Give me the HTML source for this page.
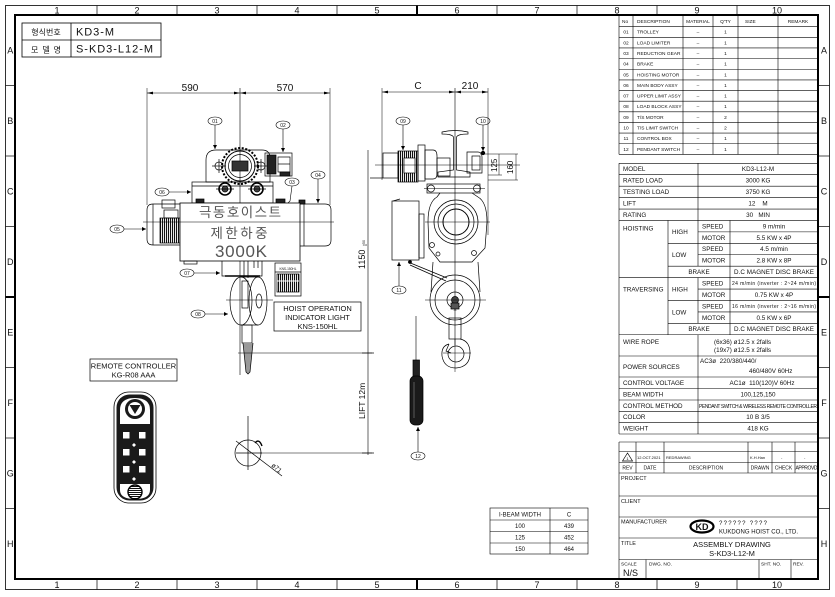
<!DOCTYPE html>
<html><head><meta charset="utf-8">
<style>
html,body{margin:0;padding:0;background:#fff;}
svg{display:block;}
text{font-family:"Liberation Sans","Noto Sans CJK KR",sans-serif;fill:#111;stroke:none;}
</style></head>
<body>
<svg width="835" height="597" viewBox="0 0 835 597" xmlns="http://www.w3.org/2000/svg">
<defs>
<marker id="ah" viewBox="0 0 6 6" refX="6" refY="3" markerUnits="userSpaceOnUse" markerWidth="5" markerHeight="4" orient="auto"><path d="M0,0 L6,3 L0,6 Z" fill="#000"/></marker>
<pattern id="vh" width="2" height="4" patternUnits="userSpaceOnUse"><rect width="1.1" height="4" fill="#111"/></pattern>
<pattern id="hh" width="4" height="2" patternUnits="userSpaceOnUse"><rect width="4" height="1" fill="#111"/></pattern>
</defs>
<rect width="835" height="597" fill="#fff"/>

<!-- ===== BORDER ===== -->
<g stroke="#000" fill="none">
<rect x="5.5" y="5.5" width="824" height="584" stroke-width="0.8"/>
<rect x="15" y="15" width="803" height="564" stroke-width="2"/>
<g stroke-width="0.7">
<line x1="97" y1="5.5" x2="97" y2="15"/><line x1="177" y1="5.5" x2="177" y2="15"/><line x1="257" y1="5.5" x2="257" y2="15"/><line x1="337" y1="5.5" x2="337" y2="15"/><line x1="497" y1="5.5" x2="497" y2="15"/><line x1="577" y1="5.5" x2="577" y2="15"/><line x1="657" y1="5.5" x2="657" y2="15"/><line x1="737" y1="5.5" x2="737" y2="15"/>
<line x1="97" y1="579" x2="97" y2="589.5"/><line x1="177" y1="579" x2="177" y2="589.5"/><line x1="257" y1="579" x2="257" y2="589.5"/><line x1="337" y1="579" x2="337" y2="589.5"/><line x1="497" y1="579" x2="497" y2="589.5"/><line x1="577" y1="579" x2="577" y2="589.5"/><line x1="657" y1="579" x2="657" y2="589.5"/><line x1="737" y1="579" x2="737" y2="589.5"/>
<line x1="5.5" y1="85.5" x2="15" y2="85.5"/><line x1="5.5" y1="156" x2="15" y2="156"/><line x1="5.5" y1="226.5" x2="15" y2="226.5"/><line x1="5.5" y1="367.5" x2="15" y2="367.5"/><line x1="5.5" y1="438" x2="15" y2="438"/><line x1="5.5" y1="508.5" x2="15" y2="508.5"/>
<line x1="818" y1="85.5" x2="829.5" y2="85.5"/><line x1="818" y1="156" x2="829.5" y2="156"/><line x1="818" y1="226.5" x2="829.5" y2="226.5"/><line x1="818" y1="367.5" x2="829.5" y2="367.5"/><line x1="818" y1="438" x2="829.5" y2="438"/><line x1="818" y1="508.5" x2="829.5" y2="508.5"/>
</g>
<g stroke-width="2">
<line x1="417" y1="5.5" x2="417" y2="15"/><line x1="417" y1="579" x2="417" y2="589.5"/>
<line x1="5.5" y1="297" x2="15" y2="297"/><line x1="818" y1="297" x2="829.5" y2="297"/>
</g>
</g>
<g font-size="9" text-anchor="middle">
<text x="57" y="13.5">1</text><text x="137" y="13.5">2</text><text x="217" y="13.5">3</text><text x="297" y="13.5">4</text><text x="377" y="13.5">5</text><text x="457" y="13.5">6</text><text x="537" y="13.5">7</text><text x="617" y="13.5">8</text><text x="697" y="13.5">9</text><text x="777" y="13.5">10</text>
<text x="57" y="588">1</text><text x="137" y="588">2</text><text x="217" y="588">3</text><text x="297" y="588">4</text><text x="377" y="588">5</text><text x="457" y="588">6</text><text x="537" y="588">7</text><text x="617" y="588">8</text><text x="697" y="588">9</text><text x="777" y="588">10</text>
<text x="10.3" y="53.5">A</text><text x="10.3" y="124">B</text><text x="10.3" y="194.5">C</text><text x="10.3" y="265">D</text><text x="10.3" y="335.5">E</text><text x="10.3" y="406">F</text><text x="10.3" y="476.5">G</text><text x="10.3" y="547">H</text>
<text x="824" y="53.5">A</text><text x="824" y="124">B</text><text x="824" y="194.5">C</text><text x="824" y="265">D</text><text x="824" y="335.5">E</text><text x="824" y="406">F</text><text x="824" y="476.5">G</text><text x="824" y="547">H</text>
</g>

<!-- ===== TOP-LEFT TITLE ===== -->
<g stroke="#000" fill="none" stroke-width="0.8">
<rect x="22" y="23" width="139" height="34"/>
<line x1="22" y1="40" x2="161" y2="40"/>
<line x1="71" y1="23" x2="71" y2="57"/>
</g>
<text x="46" y="35" font-size="8" text-anchor="middle">형식번호</text>
<text x="46" y="52.5" font-size="8" text-anchor="middle" textLength="30">모 델 명</text>
<text x="76" y="35.5" font-size="11" textLength="38">KD3-M</text>
<text x="76" y="52.5" font-size="11" textLength="77">S-KD3-L12-M</text>

<!-- ===== PARTS LIST ===== -->
<g stroke="#000" fill="none" stroke-width="0.6">
<line x1="619" y1="15" x2="619" y2="154.4"/>
<line x1="633" y1="15" x2="633" y2="154.4"/>
<line x1="683" y1="15" x2="683" y2="154.4"/>
<line x1="713" y1="15" x2="713" y2="154.4"/>
<line x1="738" y1="15" x2="738" y2="154.4"/>
<line x1="778" y1="15" x2="778" y2="154.4"/>
<line x1="619" y1="26.7" x2="818" y2="26.7"/>
<line x1="619" y1="37.34" x2="818" y2="37.34"/>
<line x1="619" y1="47.98" x2="818" y2="47.98"/>
<line x1="619" y1="58.62" x2="818" y2="58.62"/>
<line x1="619" y1="69.26" x2="818" y2="69.26"/>
<line x1="619" y1="79.9" x2="818" y2="79.9"/>
<line x1="619" y1="90.54" x2="818" y2="90.54"/>
<line x1="619" y1="101.18" x2="818" y2="101.18"/>
<line x1="619" y1="111.82" x2="818" y2="111.82"/>
<line x1="619" y1="122.46" x2="818" y2="122.46"/>
<line x1="619" y1="133.1" x2="818" y2="133.1"/>
<line x1="619" y1="143.74" x2="818" y2="143.74"/>
<line x1="619" y1="154.4" x2="818" y2="154.4"/>
</g>
<g font-size="4.8">
<text x="622" y="22.8">No</text><text x="637" y="22.8">DESCRIPTION</text><text x="698" y="22.8" text-anchor="middle">MATERIAL</text><text x="725.5" y="22.8" text-anchor="middle">Q'TY</text><text x="745" y="22.8">SIZE</text><text x="798" y="22.8" text-anchor="middle">REMARK</text>
<g text-anchor="middle">
<text x="626" y="33.7">01</text><text x="626" y="44.4">02</text><text x="626" y="55">03</text><text x="626" y="65.6">04</text><text x="626" y="76.3">05</text><text x="626" y="86.9">06</text><text x="626" y="97.6">07</text><text x="626" y="108.2">08</text><text x="626" y="118.8">09</text><text x="626" y="129.5">10</text><text x="626" y="140.1">11</text><text x="626" y="150.8">12</text>
<text x="698" y="33.7">–</text><text x="698" y="44.4">–</text><text x="698" y="55">–</text><text x="698" y="65.6">–</text><text x="698" y="76.3">–</text><text x="698" y="86.9">–</text><text x="698" y="97.6">–</text><text x="698" y="108.2">–</text><text x="698" y="118.8">–</text><text x="698" y="129.5">–</text><text x="698" y="140.1">–</text><text x="698" y="150.8">–</text>
<text x="725.5" y="33.7">1</text><text x="725.5" y="44.4">1</text><text x="725.5" y="55">1</text><text x="725.5" y="65.6">1</text><text x="725.5" y="76.3">1</text><text x="725.5" y="86.9">1</text><text x="725.5" y="97.6">1</text><text x="725.5" y="108.2">1</text><text x="725.5" y="118.8">2</text><text x="725.5" y="129.5">2</text><text x="725.5" y="140.1">1</text><text x="725.5" y="150.8">1</text>
</g>
<text x="637" y="33.7">TROLLEY</text><text x="637" y="44.4">LOAD LIMITER</text><text x="637" y="55">REDUCTION GEAR</text><text x="637" y="65.6">BRAKE</text><text x="637" y="76.3">HOISTING MOTOR</text><text x="637" y="86.9">MAIN BODY ASSY</text><text x="637" y="97.6">UPPER LIMIT ASSY</text><text x="637" y="108.2">LOAD BLOCK ASSY</text><text x="637" y="118.8">T/S MOTOR</text><text x="637" y="129.5">T/S LIMIT SWITCH</text><text x="637" y="140.1">CONTROL BOX</text><text x="637" y="150.8">PENDANT SWITCH</text>
</g>

<!-- ===== SPEC TABLE ===== -->
<g stroke="#000" fill="none" stroke-width="0.6">
<line x1="619" y1="163.3" x2="818" y2="163.3"/>
<line x1="619" y1="174.73" x2="818" y2="174.73"/>
<line x1="619" y1="186.16" x2="818" y2="186.16"/>
<line x1="619" y1="197.59" x2="818" y2="197.59"/>
<line x1="619" y1="209.02" x2="818" y2="209.02"/>
<line x1="619" y1="220.45" x2="818" y2="220.45"/>
<line x1="698" y1="231.88" x2="818" y2="231.88"/>
<line x1="668" y1="243.31" x2="818" y2="243.31"/>
<line x1="698" y1="254.74" x2="818" y2="254.74"/>
<line x1="668" y1="266.17" x2="818" y2="266.17"/>
<line x1="619" y1="277.6" x2="818" y2="277.6"/>
<line x1="698" y1="289.03" x2="818" y2="289.03"/>
<line x1="668" y1="300.46" x2="818" y2="300.46"/>
<line x1="698" y1="311.89" x2="818" y2="311.89"/>
<line x1="668" y1="323.32" x2="818" y2="323.32"/>
<line x1="619" y1="334.75" x2="818" y2="334.75"/>
<line x1="619" y1="356" x2="818" y2="356"/>
<line x1="619" y1="377" x2="818" y2="377"/>
<line x1="619" y1="388.5" x2="818" y2="388.5"/>
<line x1="619" y1="400" x2="818" y2="400"/>
<line x1="619" y1="411.3" x2="818" y2="411.3"/>
<line x1="619" y1="422.7" x2="818" y2="422.7"/>
<line x1="619" y1="434" x2="818" y2="434"/>
<line x1="619" y1="163.3" x2="619" y2="434"/>
<line x1="698" y1="163.3" x2="698" y2="266.17"/>
<line x1="698" y1="277.6" x2="698" y2="323.32"/>
<line x1="698" y1="334.75" x2="698" y2="434"/>
<line x1="668" y1="220.45" x2="668" y2="334.75"/>
<line x1="730" y1="220.45" x2="730" y2="334.75"/>
</g>
<g font-size="6.3">
<text x="623" y="171.2">MODEL</text><text x="758" y="171.2" text-anchor="middle">KD3-L12-M</text>
<text x="623" y="182.6">RATED LOAD</text><text x="758" y="182.6" text-anchor="middle">3000 KG</text>
<text x="623" y="194.1">TESTING LOAD</text><text x="758" y="194.1" text-anchor="middle">3750 KG</text>
<text x="623" y="205.5">LIFT</text><text x="758" y="205.5" text-anchor="middle">12 &#160;&#160;&#160;M</text>
<text x="623" y="216.9">RATING</text><text x="758" y="216.9" text-anchor="middle">30 &#160;&#160;MIN</text>
<text x="623" y="230.5">HOISTING</text>
<text x="672" y="234">HIGH</text><text x="672" y="257">LOW</text>
<text x="702" y="228.4">SPEED</text><text x="774" y="228.4" text-anchor="middle">9 m/min</text>
<text x="702" y="239.8">MOTOR</text><text x="774" y="239.8" text-anchor="middle">5.5 KW x 4P</text>
<text x="702" y="251.2">SPEED</text><text x="774" y="251.2" text-anchor="middle">4.5 m/min</text>
<text x="702" y="262.6">MOTOR</text><text x="774" y="262.6" text-anchor="middle">2.8 KW x 8P</text>
<text x="699" y="274.1" text-anchor="middle">BRAKE</text><text x="774" y="274.1" text-anchor="middle" textLength="80">D.C MAGNET DISC BRAKE</text>
<text x="623" y="291.5">TRAVERSING</text>
<text x="672" y="291.5">HIGH</text><text x="672" y="314.5">LOW</text>
<text x="702" y="285.5">SPEED</text><text x="774" y="285.2" text-anchor="middle" font-size="5" textLength="84">24 m/min (inverter : 2~24 m/min)</text>
<text x="702" y="296.9">MOTOR</text><text x="774" y="296.9" text-anchor="middle">0.75 KW x 4P</text>
<text x="702" y="308.4">SPEED</text><text x="774" y="308.1" text-anchor="middle" font-size="5" textLength="84">16 m/min (inverter : 2~16 m/min)</text>
<text x="702" y="319.8">MOTOR</text><text x="774" y="319.8" text-anchor="middle">0.5 KW x 6P</text>
<text x="699" y="331.2" text-anchor="middle">BRAKE</text><text x="774" y="331.2" text-anchor="middle" textLength="80">D.C MAGNET DISC BRAKE</text>
<text x="623" y="344">WIRE ROPE</text>
<text x="714" y="344">(6x36) ø12.5 x 2falls</text>
<text x="714" y="352">(19x7) ø12.5 x 2falls</text>
<text x="623" y="369">POWER SOURCES</text>
<text x="700" y="363">AC3ø &#160;220/380/440/</text>
<text x="749" y="373">460/480V 60Hz</text>
<text x="623" y="385">CONTROL VOLTAGE</text><text x="762" y="385" text-anchor="middle">AC1ø &#160;110(120)V 60Hz</text>
<text x="623" y="396.5">BEAM WIDTH</text><text x="758" y="396.5" text-anchor="middle">100,125,150</text>
<text x="623" y="408">CONTROL METHOD</text><text x="758" y="408" text-anchor="middle" font-size="5" textLength="118">PENDANT SWITCH &amp; WIRELESS REMOTE CONTROLLER</text>
<text x="623" y="419.2">COLOR</text><text x="758" y="419.2" text-anchor="middle">10 B 3/5</text>
<text x="623" y="430.6">WEIGHT</text><text x="758" y="430.6" text-anchor="middle">418 KG</text>
</g>

<!-- ===== TITLE BLOCK ===== -->
<g stroke="#000" fill="none" stroke-width="0.6">
<line x1="619" y1="442" x2="818" y2="442"/>
<line x1="619" y1="451.5" x2="818" y2="451.5"/>
<line x1="619" y1="462.5" x2="818" y2="462.5"/>
<line x1="619" y1="473" x2="818" y2="473"/>
<line x1="619" y1="496" x2="818" y2="496"/>
<line x1="619" y1="517" x2="818" y2="517"/>
<line x1="619" y1="538" x2="818" y2="538"/>
<line x1="619" y1="559.5" x2="818" y2="559.5"/>
<line x1="619" y1="442" x2="619" y2="579"/>
<line x1="636" y1="442" x2="636" y2="473"/>
<line x1="664" y1="442" x2="664" y2="473"/>
<line x1="748" y1="442" x2="748" y2="473"/>
<line x1="772" y1="442" x2="772" y2="473"/>
<line x1="795" y1="442" x2="795" y2="473"/>
<line x1="646" y1="559.5" x2="646" y2="579"/>
<line x1="759" y1="559.5" x2="759" y2="579"/>
<line x1="791" y1="559.5" x2="791" y2="579"/>
<polygon points="622.5,461 627.5,453 632.5,461" stroke-width="0.7"/>
<ellipse cx="702" cy="526.5" rx="11.5" ry="6" stroke-width="2.2"/>
</g>
<text x="627.5" y="460" font-size="4" text-anchor="middle">1</text>
<g font-size="4">
<text x="637" y="459">12.OCT.2021</text><text x="666" y="459">REDRAWING</text><text x="750" y="459">K.H.Han</text><text x="781" y="459">-</text><text x="804" y="459">-</text>
</g>
<g font-size="5" text-anchor="middle">
<text x="627.5" y="469.5">REV</text><text x="650" y="469.5">DATE</text><text x="706" y="469.5">DESCRIPTION</text><text x="760" y="469.5">DRAWN</text><text x="783.5" y="469.5">CHECK</text><text x="806.5" y="469.5" textLength="22">APPROVD</text>
</g>
<g font-size="5.5">
<text x="621" y="480">PROJECT</text>
<text x="621" y="503">CLIENT</text>
<text x="621" y="523.5">MANUFACTURER</text>
<text x="621" y="545">TITLE</text>
<text x="621" y="565.5" font-size="4.8">SCALE</text>
<text x="649" y="565.5" font-size="4.8">DWG. NO.</text>
<text x="761" y="565.5" font-size="4.8">SHT. NO.</text>
<text x="793" y="565.5" font-size="4.8">REV.</text>
</g>
<text x="623" y="576" font-size="9">N/S</text>
<text x="702" y="529.8" font-size="9" font-weight="bold" text-anchor="middle">KD</text>
<text x="719" y="525" font-size="6" textLength="48">?????? ????</text>
<text x="719" y="533.5" font-size="6" textLength="79">KUKDONG HOIST CO., LTD.</text>
<text x="732" y="547" font-size="7.5" text-anchor="middle">ASSEMBLY DRAWING</text>
<text x="732" y="556" font-size="7.5" text-anchor="middle">S-KD3-L12-M</text>

<!-- ===== FRONT VIEW ===== -->
<g stroke="#000" fill="none" stroke-width="0.7">
<!-- dims -->
<line x1="147" y1="93" x2="330" y2="93" stroke-width="0.5"/>
<line x1="147" y1="88" x2="147" y2="205" stroke-width="0.5"/>
<line x1="330" y1="88" x2="330" y2="205" stroke-width="0.5"/>
<line x1="240" y1="88" x2="240" y2="375" stroke-width="0.6"/>
<polygon points="147,93 153,91.6 153,94.4" fill="#000" stroke="none"/>
<polygon points="330,93 324,91.6 324,94.4" fill="#000" stroke="none"/>
<polygon points="240,93 234,91.6 234,94.4" fill="#000" stroke="none"/>
<polygon points="240,93 246,91.6 246,94.4" fill="#000" stroke="none"/>
<!-- trolley -->
<path d="M216,150 H262 Q270,150 270,158 V182 H206 V160 Q206,150 216,150 Z"/>
<circle cx="240" cy="166" r="18" stroke-width="2" stroke-dasharray="2 1.6"/>
<circle cx="240" cy="166" r="15" stroke-width="1"/>
<circle cx="240" cy="166" r="11.5"/>
<rect x="232" y="161" width="16" height="10" fill="#333"/>
<circle cx="219" cy="166" r="4"/><line x1="212" y1="166" x2="226" y2="166"/><line x1="219" y1="159" x2="219" y2="173"/>
<circle cx="261" cy="166" r="4"/><line x1="254" y1="166" x2="268" y2="166"/><line x1="261" y1="159" x2="261" y2="173"/>
<!-- load limiter -->
<rect x="265" y="153" width="27" height="23"/>
<rect x="267" y="155" width="9" height="19" fill="#222"/>
<rect x="278" y="157" width="12" height="15"/>
<line x1="278" y1="164" x2="290" y2="164"/>
<rect x="280" y="172" width="10" height="4" fill="#222"/>
<!-- frame -->
<rect x="192" y="182" width="81" height="21"/>
<line x1="192" y1="186" x2="273" y2="186"/>
<circle cx="225" cy="189" r="6" stroke-width="1.6"/><circle cx="225" cy="189" r="3" fill="#444"/>
<circle cx="257" cy="189" r="6" stroke-width="1.6"/><circle cx="257" cy="189" r="3" fill="#444"/>
<line x1="216" y1="189" x2="234" y2="189"/><line x1="248" y1="189" x2="266" y2="189"/>
<!-- left motor -->
<path d="M180,204 H153 Q147,204 147,210 V239 Q147,245 153,245 H180"/>
<line x1="153" y1="204" x2="153" y2="245"/>
<rect x="160" y="218" width="20" height="25" fill="url(#vh)"/>
<rect x="162" y="200" width="13" height="8"/>
<rect x="164" y="210" width="14" height="8"/>
<!-- right brake -->
<path d="M300,204 H325 Q331,204 331,210 V240 Q331,246 325,246 H300"/>
<line x1="304" y1="204" x2="304" y2="246"/>
<rect x="299" y="200" width="6" height="4" fill="#222"/>
<rect x="196" y="199" width="8" height="4" fill="#222"/>
<rect x="276" y="199" width="9" height="5" fill="#222"/>
<!-- nameplate body -->
<rect x="180" y="203" width="120" height="58" fill="#fff" stroke-width="0.8"/>
<line x1="143" y1="222" x2="334" y2="222" stroke-width="0.6"/>
<rect x="184" y="261" width="13" height="3"/>
<!-- upper limit 07 -->
<polyline points="222,261 222,276 262,276 262,261"/>
<line x1="225" y1="276" x2="260" y2="276" stroke-width="1.5"/>
<line x1="254" y1="261" x2="254" y2="268"/><line x1="258" y1="261" x2="258" y2="268"/>
<!-- load block 08 -->
<ellipse cx="241" cy="301" rx="11" ry="24"/>
<ellipse cx="258" cy="301" rx="9" ry="24"/>
<line x1="241" y1="277" x2="258" y2="277"/><line x1="241" y1="325" x2="258" y2="325"/>
<ellipse cx="259" cy="301" rx="3" ry="7"/>
<rect x="242" y="281" width="6" height="27"/>
<line x1="226" y1="300" x2="273" y2="300" stroke-width="0.5"/>
<line x1="244" y1="261" x2="244" y2="278"/><line x1="248" y1="261" x2="248" y2="278"/>
<rect x="242" y="325" width="10" height="18"/>
<path d="M243,343 L246,372 L248,374 L250,372 L253,343" fill="#999"/>
<line x1="238" y1="353" x2="372" y2="353" stroke-width="0.6"/>
<!-- KNS light -->
<rect x="275" y="263" width="26" height="33"/>
<line x1="275" y1="272" x2="301" y2="272"/>
<rect x="277" y="274" width="22" height="18" fill="url(#vh)"/>
<line x1="277" y1="281" x2="299" y2="281" stroke="#fff" stroke-width="1"/>
<rect x="274" y="302" width="87" height="29"/>
<!-- 1150 / lift dims -->
<line x1="368" y1="150" x2="368" y2="455" stroke-width="0.6"/>
<line x1="362" y1="353" x2="374" y2="353"/>
<line x1="362" y1="453" x2="374" y2="453"/>
<line x1="260" y1="453" x2="372" y2="453" stroke-width="0.6"/>
<!-- hook bottom -->
<circle cx="248" cy="453" r="13"/>
<line x1="248" y1="416" x2="248" y2="470"/>
<line x1="236" y1="453" x2="262" y2="453"/>
<path d="M255,443 Q259,438 262,446" stroke-width="1.4"/>
<line x1="236" y1="441" x2="282" y2="476"/>
<!-- callouts -->
<g stroke-width="0.6">
<ellipse cx="215" cy="121" rx="7" ry="4"/>
<ellipse cx="283" cy="125" rx="7" ry="4"/>
<ellipse cx="292" cy="182" rx="7" ry="4"/>
<ellipse cx="318" cy="175" rx="7" ry="4"/>
<ellipse cx="117" cy="229" rx="7" ry="4"/>
<ellipse cx="162" cy="192" rx="7" ry="4"/>
<ellipse cx="187" cy="273" rx="7" ry="4"/>
<ellipse cx="198" cy="314" rx="7" ry="4"/>
<line x1="215" y1="125" x2="215" y2="149" marker-end="url(#ah)"/>
<line x1="283" y1="129" x2="283" y2="152" marker-end="url(#ah)"/>
<polyline points="292,186 290,201 288,203"/>
<line x1="318" y1="179" x2="318" y2="203" marker-end="url(#ah)"/>
<line x1="124" y1="229" x2="146" y2="229" marker-end="url(#ah)"/>
<line x1="169" y1="192" x2="191" y2="192" marker-end="url(#ah)"/>
<line x1="194" y1="273" x2="220" y2="273" marker-end="url(#ah)"/>
<line x1="205" y1="314" x2="228" y2="314" marker-end="url(#ah)"/>
</g>
</g>
<g font-size="5" text-anchor="middle">
<text x="215" y="122.8">01</text><text x="283" y="126.8">02</text><text x="292" y="183.8">03</text><text x="318" y="176.8">04</text><text x="117" y="230.8">05</text><text x="162" y="193.8">06</text><text x="187" y="274.8">07</text><text x="198" y="315.8">08</text>
</g>
<text x="190" y="91" font-size="10" text-anchor="middle">590</text>
<text x="285" y="91" font-size="10" text-anchor="middle">570</text>
<g fill="#555" style="fill:#555">
<text x="240" y="217" font-size="13.5" text-anchor="middle" textLength="82" style="fill:#555">극동호이스트</text>
<text x="239" y="238" font-size="13.5" text-anchor="middle" textLength="57" style="fill:#555">제한하중</text>
<text x="241" y="257" font-size="17" text-anchor="middle" textLength="52" style="fill:#555">3000K</text>
</g>
<text x="288" y="270" font-size="3.2" text-anchor="middle">KNS-150HL</text>
<g font-size="7.5" text-anchor="middle">
<text x="317.5" y="311">HOIST OPERATION</text>
<text x="317.5" y="320">INDICATOR LIGHT</text>
<text x="317.5" y="329">KNS-150HL</text>
</g>
<text transform="translate(365,269) rotate(-90)" font-size="9">1150</text>
<text transform="translate(365,246) rotate(-90)" font-size="3.5">+50</text>
<text transform="translate(367,246) rotate(-90)" font-size="3.5">0</text>
<text transform="translate(365,419) rotate(-90)" font-size="8.5">LIFT 12m</text>
<text transform="translate(271,466) rotate(40)" font-size="6.5">ø71</text>

<!-- ===== REMOTE CONTROLLER ===== -->
<rect x="90" y="359" width="87" height="22" fill="none" stroke="#000" stroke-width="0.7"/>
<g font-size="7.5" text-anchor="middle">
<text x="133.5" y="368.5">REMOTE CONTROLLER</text>
<text x="133.5" y="377.5">KG-R08 AAA</text>
</g>
<g>
<rect x="114" y="392" width="42" height="111" rx="15" fill="#fff" stroke="#000" stroke-width="0.8"/>
<rect x="116.5" y="394.5" width="37" height="106" rx="13" fill="#1a1a1a"/>
<path d="M120,424 V410 Q120,398 135,398 Q150,398 150,410 V424 Z" fill="#fff"/>
<circle cx="135" cy="409" r="10" fill="#1a1a1a"/>
<circle cx="135" cy="409" r="7" fill="#fff"/>
<polygon points="129.5,405 140.5,405 135,414" fill="#1a1a1a"/>
<g fill="#fff">
<rect x="123" y="432" width="6.5" height="6.5"/><rect x="139" y="432" width="6.5" height="6.5"/>
<rect x="123" y="449" width="6.5" height="6.5"/><rect x="139" y="449" width="6.5" height="6.5"/>
<rect x="123" y="466" width="6.5" height="6.5"/><rect x="139" y="466" width="6.5" height="6.5"/>
<polygon points="134,443 136,445 134,447 132,445"/>
<polygon points="134,460 136,462 134,464 132,462"/>
<polygon points="134,477 136,479 134,481 132,479"/>
</g>
<path d="M120,484 H150 V490 Q150,499 135,499 Q120,499 120,490 Z" fill="#fff"/>
<circle cx="135" cy="492" r="7" fill="url(#hh)" stroke="#000" stroke-width="1.4"/>
</g>

<!-- ===== SIDE VIEW ===== -->
<g stroke="#000" fill="none" stroke-width="0.7">
<line x1="382" y1="92" x2="488" y2="92" stroke-width="0.5"/>
<line x1="382" y1="88" x2="382" y2="180" stroke-width="0.5"/>
<line x1="488" y1="88" x2="488" y2="235" stroke-width="0.5"/>
<line x1="455" y1="88" x2="455" y2="345" stroke-width="0.6"/>
<polygon points="382,92 388,90.6 388,93.4" fill="#000" stroke="none"/>
<polygon points="488,92 482,90.6 482,93.4" fill="#000" stroke="none"/>
<polygon points="455,92 449,90.6 449,93.4" fill="#000" stroke="none"/>
<polygon points="455,92 461,90.6 461,93.4" fill="#000" stroke="none"/>
<!-- I beam -->
<path d="M442,132 Q455,129 468,132 L468,134 Q458,134 456.5,137 L456.5,170 L470,172 L470,177 L438,177 L438,172 L453.5,170 L453.5,137 Q452,134 442,134 Z"/>
<!-- motor 09 -->
<rect x="383" y="153" width="15" height="25"/>
<rect x="398" y="151" width="20" height="31" fill="url(#vh)"/>
<rect x="404" y="158" width="11" height="15" fill="#fff"/>
<rect x="418" y="145" width="7" height="36"/>
<path d="M425,150 H433 Q437,150 437,156 V174 Q437,179 433,179 H425 Z"/>
<rect x="437" y="158" width="13" height="18"/>
<line x1="370" y1="178" x2="383" y2="178"/>
<line x1="375" y1="165" x2="520" y2="165" stroke-width="0.5"/>
<!-- switch 10 -->
<path d="M467,152 H478 Q482,152 482,157 V173 H467 Z"/>
<rect x="472" y="156" width="8" height="14"/>
<circle cx="483" cy="153" r="1.8" fill="#000"/>
<!-- 125/160 dims -->
<line x1="480" y1="154" x2="518" y2="154" stroke-width="0.5"/>
<line x1="488" y1="175" x2="502" y2="175" stroke-width="0.5"/>
<line x1="488" y1="180" x2="518" y2="180" stroke-width="0.5"/>
<line x1="499" y1="154" x2="499" y2="175" stroke-width="0.5"/>
<line x1="516" y1="154" x2="516" y2="180" stroke-width="0.5"/>
<!-- plate -->
<rect x="427" y="184" width="53" height="9"/>
<circle cx="431" cy="188.5" r="3.5"/><circle cx="477" cy="188.5" r="3.5"/>
<line x1="424" y1="188.5" x2="485" y2="188.5" stroke-width="0.5"/>
<!-- drum housing -->
<path d="M440,193 L437,197 Q428,202 428,222 L429,248 L440,262 L472,262 L485,248 L487,222 Q487,202 478,197 L472,193"/>
<circle cx="456" cy="222" r="22"/>
<circle cx="456" cy="222" r="18"/>
<circle cx="456" cy="222" r="13" stroke-width="1"/>
<line x1="425" y1="222" x2="490" y2="222" stroke-width="0.5"/>
<circle cx="432" cy="245" r="2.5"/><circle cx="474" cy="253" r="2.5"/><circle cx="438" cy="254" r="2"/>
<!-- control box 11 -->
<rect x="392" y="201" width="27" height="59"/>
<rect x="419" y="214" width="5" height="44"/>
<line x1="393" y1="201" x2="400" y2="199"/>
<path d="M408,262 L447,278 M410,265 L446,281" />
<circle cx="410" cy="262" r="1.5" fill="#000"/>
<!-- ropes -->
<line x1="433" y1="262" x2="431" y2="292"/>
<line x1="478" y1="262" x2="480" y2="292"/>
<!-- load block -->
<circle cx="455" cy="300" r="25"/>
<circle cx="455" cy="300" r="20"/>
<circle cx="455" cy="300" r="8"/>
<circle cx="455" cy="300" r="3.5" fill="#444"/>
<line x1="425" y1="300" x2="486" y2="300" stroke-width="0.5"/>
<rect x="451" y="303" width="8" height="6" fill="#555"/>
<!-- hook -->
<rect x="449" y="318" width="12" height="21"/>
<path d="M449,344 Q441,346 442,356 Q444,368 456,368 Q470,367 470,353 Q470,341 460,339"/>
<path d="M449,344 L446,351 L451,353" />
<circle cx="456" cy="354" r="8"/>
<line x1="443" y1="353" x2="471" y2="353" stroke-width="0.5"/>
<line x1="455" y1="339" x2="455" y2="372" stroke-width="0.5"/>
<!-- pendant 12 -->
<line x1="416" y1="316" x2="416" y2="362" stroke-width="0.6"/>
<rect x="413" y="360" width="6.5" height="18" fill="#222"/>
<rect x="410" y="376" width="13" height="49" rx="5" fill="#1a1a1a"/>
<line x1="414" y1="382" x2="414" y2="418" stroke="#777" stroke-width="0.7"/>
<!-- callouts -->
<g stroke-width="0.6">
<ellipse cx="403" cy="121" rx="7" ry="4"/>
<ellipse cx="483" cy="121" rx="7" ry="4"/>
<ellipse cx="399" cy="290" rx="7" ry="4"/>
<ellipse cx="418" cy="456" rx="7" ry="4"/>
<line x1="403" y1="125" x2="403" y2="150" marker-end="url(#ah)"/>
<line x1="483" y1="125" x2="483" y2="151" marker-end="url(#ah)"/>
<line x1="399" y1="286" x2="399" y2="262" marker-end="url(#ah)"/>
<line x1="418" y1="452" x2="418" y2="427" marker-end="url(#ah)"/>
</g>
</g>
<g font-size="5" text-anchor="middle">
<text x="403" y="122.8">09</text><text x="483" y="122.8">10</text><text x="399" y="291.8">11</text><text x="418" y="457.8">12</text>
</g>
<text x="418" y="89" font-size="10" text-anchor="middle">C</text>
<text x="470" y="89" font-size="10" text-anchor="middle">210</text>
<text transform="translate(497,172) rotate(-90)" font-size="8">125</text>
<text transform="translate(513,174) rotate(-90)" font-size="8">160</text>
<text x="455" y="311" font-size="3.5" text-anchor="middle">3t</text>

<!-- ===== I-BEAM TABLE ===== -->
<g stroke="#000" fill="none" stroke-width="0.6">
<rect x="490" y="508" width="98" height="46"/>
<line x1="550" y1="508" x2="550" y2="554"/>
<line x1="490" y1="520" x2="588" y2="520"/>
<line x1="490" y1="531.5" x2="588" y2="531.5"/>
<line x1="490" y1="543" x2="588" y2="543"/>
</g>
<g font-size="6" text-anchor="middle">
<text x="520" y="516.5">I-BEAM WIDTH</text><text x="569" y="516.5">C</text>
<text x="520" y="528">100</text><text x="569" y="528">439</text>
<text x="520" y="539.5">125</text><text x="569" y="539.5">452</text>
<text x="520" y="551">150</text><text x="569" y="551">464</text>
</g>
</svg>
</body></html>
